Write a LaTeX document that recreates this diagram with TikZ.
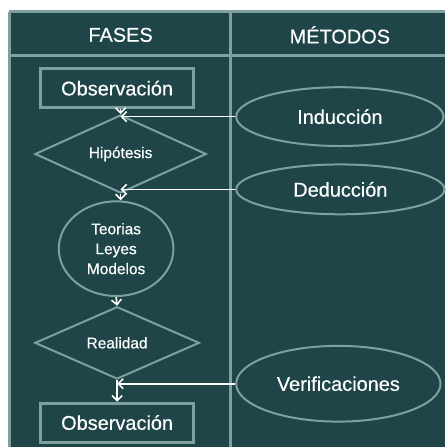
\documentclass[tikz,border=0pt]{standalone}
\usepackage{fontspec}
\setmainfont{Liberation Sans}[FakeBold=0.35]
\usetikzlibrary{shapes.geometric,arrows.meta}
\definecolor{bgteal}{HTML}{1F4548}
\definecolor{linegray}{HTML}{80A0A0}
\tikzset{
  gridline/.style={draw=linegray,line width=3pt},
  bigtxt/.style={text=white,font=\fontsize{20}{24}\selectfont},
  smalltxt/.style={text=white,font=\fontsize{15.5}{20}\selectfont,align=center},
  obsbox/.style={draw=linegray,line width=3pt,minimum width=153pt,minimum height=39pt,inner sep=0pt,bigtxt},
  decision/.style={diamond,draw=linegray,line width=2pt,inner sep=0pt,smalltxt},
  method/.style={ellipse,draw=linegray,line width=2pt,inner sep=0pt,bigtxt},
  arr/.style={draw=white,line width=1.6pt,-{Straight Barb[length=5pt,width=10pt]}}
}
\begin{document}
\begin{tikzpicture}[x=1pt,y=-1pt]
\path[fill=white] (0,0) rectangle (446,448);
\path[fill=bgteal] (9.5,12) rectangle (446,448);
% table lines
\draw[gridline] (9.5,12) -- (446,12);
\draw[gridline] (9.5,12) -- (9.5,448);
\draw[gridline] (9.5,55.5) -- (446,55.5);
\draw[gridline] (231.5,12) -- (231.5,448);
% headers
\node[bigtxt] (hfases) at (121,35) {FASES};
\node[bigtxt] (hmetodos) at (341,35) {MÉTODOS};
% phases
\node[obsbox] (obs1) at (117.5,88.5) {Observación};
\node[decision,minimum width=172pt,minimum height=57pt] (hip) at (121,154.5) {Hipótesis};
\node[ellipse,draw=linegray,line width=2pt,inner sep=0pt,minimum width=115pt,minimum height=95pt,smalltxt] (teo) at (116.5,249.5) {Teorias\\Leyes\\Modelos};
\node[decision,minimum width=165pt,minimum height=68pt] (real) at (117.5,344) {Realidad};
\node[obsbox] (obs2) at (117.5,424) {Observación};
% methods
\node[method,minimum width=208pt,minimum height=59pt] (ind) at (341,117) {Inducción};
\node[method,minimum width=209pt,minimum height=50pt] (ded) at (341.5,190) {Deducción};
\node[method,minimum width=205pt,minimum height=76pt] (ver) at (339.5,385) {Verificaciones};
% joining points
\coordinate (j1) at (hip.north |- obs1.south);
\coordinate (j2) at (hip.south |- teo.north);
\coordinate (j3) at (real.south |- obs2.north);
\coordinate (k1) at (ind.west -| hip.north);
\coordinate (k2) at (ded.west -| hip.south);
\coordinate (k3) at (ver.west -| real.south);
% connectors
\draw[arr] (j1) -- (hip.north);
\draw[arr] (hip.south) -- (j2);
\draw[arr] (teo.south) -- (real.north);
\draw[arr] (real.south) -- (j3);
\draw[arr] (ind.west) -- (k1);
\draw[arr] (ded.west) -- (k2);
\draw[arr] (ver.west) -- (k3);
\useasboundingbox (0,0) rectangle (446,448);
\end{tikzpicture}
\end{document}
